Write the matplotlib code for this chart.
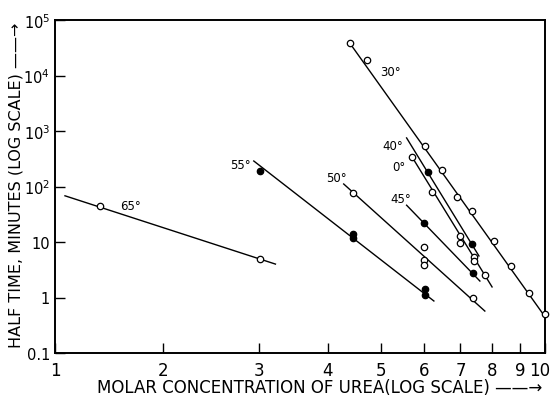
import numpy as np
import matplotlib
matplotlib.use('Agg')
import matplotlib.pyplot as plt
import matplotlib.transforms as mtransforms

# Half time vs molar urea concentration, one line per temperature

# the original x axis is logarithmic but the 1 -> 2 stretch is squeezed
SQUEEZE = 0.658
LOG2 = np.log10(2)


def fwd(x):
	x = np.asarray(x, dtype=float)
	with np.errstate(divide='ignore', invalid='ignore'):
		lx = np.log10(x)
	return np.where(lx >= LOG2, lx, LOG2 - (LOG2 - lx) * SQUEEZE)


def inv(t):
	t = np.asarray(t, dtype=float)
	return np.where(t >= LOG2, 10 ** t, 10 ** (LOG2 - (LOG2 - t) / SQUEEZE))


# --- data ---
t30_x = [4.4, 4.73, 6.03, 6.47, 6.9, 7.35, 8.07, 8.66, 9.35, 10.0]
t30_y = [38500, 19000, 540, 200, 65, 36, 10.4, 3.7, 1.2, 0.5]
t30_fit_x = [4.39, 10.0]
t30_fit_y = [38500, 0.45]

t40_x = [6.11, 7.35]
t40_y = [182, 9.2]
t40_fit_x = [5.58, 7.57]
t40_fit_y = [750, 5.6]

t0_x = [5.71, 6.21, 6.99, 6.99, 7.41, 7.41, 7.76]
t0_y = [340, 80, 12.8, 9.6, 5.4, 4.5, 2.5]
t0_fit_x = [5.71, 8.0]
t0_fit_y = [340, 1.55]

t45_x = [6.0, 7.37]
t45_y = [22, 2.76]
t45_fit_x = [5.58, 7.6]
t45_fit_y = [46, 1.98]

t50_x = [4.46, 6.0, 6.0, 6.0, 7.37]
t50_y = [76, 8.1, 4.8, 3.8, 0.98]
t50_fit_x = [4.28, 7.76]
t50_fit_y = [111, 0.57]

t55_x = [3.01, 4.46, 4.46, 6.03, 6.03]
t55_y = [190, 14, 12, 1.4, 1.1]
t55_fit_x = [2.93, 6.26]
t55_fit_y = [288, 0.865]

t65_x = [1.33, 3.01]
t65_y = [44.6, 4.94]
t65_fit_x = [1.066, 3.21]
t65_fit_y = [68, 4.0]

series_labels = ['30°', '40°', '0°', '45°', '50°', '55°', '65°']
label_x = [5.21, 5.26, 5.40, 5.45, 4.15, 2.77, 1.62]
label_y = [12000, 540, 234, 60, 148, 254, 44.6]

x_ticks = [1, 2, 3, 4, 5, 6, 7, 8, 9, 10]
y_ticks = [0.1, 1, 10, 100, 1000, 10000, 100000]
y_ticklabels = ['0.1', '1', '10', '10$^2$', '10$^3$', '10$^4$', '10$^5$']

# --- plot ---
series = [
	(t30_x, t30_y, t30_fit_x, t30_fit_y, False),
	(t40_x, t40_y, t40_fit_x, t40_fit_y, True),
	(t0_x, t0_y, t0_fit_x, t0_fit_y, False),
	(t45_x, t45_y, t45_fit_x, t45_fit_y, True),
	(t50_x, t50_y, t50_fit_x, t50_fit_y, False),
	(t55_x, t55_y, t55_fit_x, t55_fit_y, True),
	(t65_x, t65_y, t65_fit_x, t65_fit_y, False),
]

fig = plt.figure(figsize=(5.52, 4.02), dpi=100)
ax = fig.add_axes([55 / 552, 48 / 402, 490 / 552, 333 / 402])
ax.set_xscale('function', functions=(fwd, inv))
ax.set_yscale('log')

for xs, ys, fx, fy, filled in series:
	ax.plot(fx, fy, color='black', lw=1.0, zorder=2)
	ax.plot(xs, ys, linestyle='none', marker='o', ms=4.6, mew=0.9,
			mec='black', mfc='black' if filled else 'white', zorder=3, clip_on=False)

for lab, lx, ly in zip(series_labels, label_x, label_y):
	ax.text(lx, ly, lab, fontsize=8.5, ha='center', va='center')

ax.set_xlim(1, 10)
ax.set_ylim(0.1, 1e5)
ax.set_xticks(x_ticks, [str(v) for v in x_ticks])
ax.set_yticks(y_ticks, y_ticklabels)
ax.minorticks_off()
ax.tick_params(direction='in', length=7, width=1)
ax.tick_params(axis='x', pad=6, labelsize=12)
ax.tick_params(axis='y', pad=3.5, labelsize=10.5)
for sp in ax.spines.values():
	sp.set_linewidth(1.4)

# nudge the "10" at the right end so it stays inside the figure
last = ax.get_xticklabels()[-1]
last.set_transform(last.get_transform() + mtransforms.ScaledTranslation(-4 / 72, 0, fig.dpi_scale_trans))

ax.set_xlabel('MOLAR CONCENTRATION OF UREA(LOG SCALE) \u2014\u2014\u2192', fontsize=12)
ax.xaxis.set_label_coords(0.54, -0.075)
ax.set_ylabel('HALF TIME, MINUTES (LOG SCALE) \u2014\u2014\u2192', fontsize=11.5)
ax.yaxis.set_label_coords(-0.064, 0.507)

fig.savefig('out.png', dpi=100)
